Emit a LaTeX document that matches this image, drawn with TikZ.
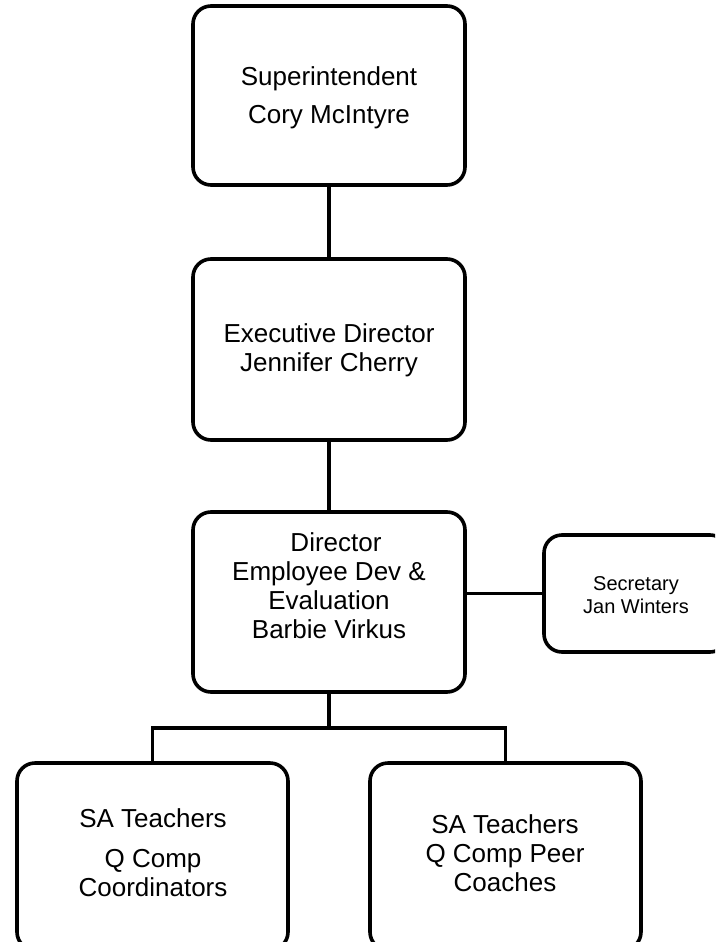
\documentclass[tikz,border=0pt]{standalone}
\usepackage{fontspec}
\setmainfont{Liberation Sans}
\begin{document}
\begin{tikzpicture}[x=1pt,y=-1pt,
  box/.style={draw=black,line width=3.6pt,rounded corners=18pt,inner sep=0pt,fill=white},
  lbl/.style={align=center,inner sep=0pt,font=\fontsize{26}{29}\selectfont},
  slbl/.style={align=center,inner sep=0pt,font=\fontsize{20}{23}\selectfont},
  conn/.style={draw=black,line width=3.6pt}]
\useasboundingbox (0,0) rectangle (715,942);
\clip (0,0) rectangle (715,942);
\fill[white] (0,0) rectangle (715,942);
% boxes
\node[box,minimum width=272pt,minimum height=179pt] (sup) at (329,95.5) {};
\node[box,minimum width=272pt,minimum height=181pt] (exec) at (329,349.5) {};
\node[box,minimum width=272pt,minimum height=180pt] (dir) at (329,602) {};
\node[box,minimum width=184pt,minimum height=117pt] (sec) at (636,593.5) {};
\node[box,minimum width=271pt,minimum height=187pt] (qcc) at (152.5,856.5) {};
\node[box,minimum width=271pt,minimum height=187pt] (qpc) at (505.5,856.5) {};
% connectors
\coordinate (junc) at (329,728);
\draw[conn] (sup.south) -- (exec.north);
\draw[conn] (exec.south) -- (dir.north);
\draw[conn] (dir.east |- sec.west) -- (sec.west);
\draw[conn] (dir.south) -- (junc);
\draw[conn] (junc) -| (qcc.north);
\draw[conn] (junc) -| (qpc.north);
% texts
\node[lbl] (tsup) at (329,98) {Superintendent\\[9.5pt]Cory McIntyre};
\node[lbl] (texec) at (329,350) {Executive Director\\Jennifer Cherry};
\node[lbl] (tdir) at (329,586) {\hspace*{14pt}Director\\Employee Dev \&\\Evaluation\\Barbie Virkus};
\node[slbl] (tsec) at (636,595) {Secretary\\Jan Winters};
\node[lbl] (tqcc) at (153,853) {SA Teachers\\[11pt]Q Comp\\Coordinators};
\node[lbl] (tqpc) at (505,853) {SA Teachers\\Q Comp Peer\\Coaches};
\end{tikzpicture}
\end{document}
